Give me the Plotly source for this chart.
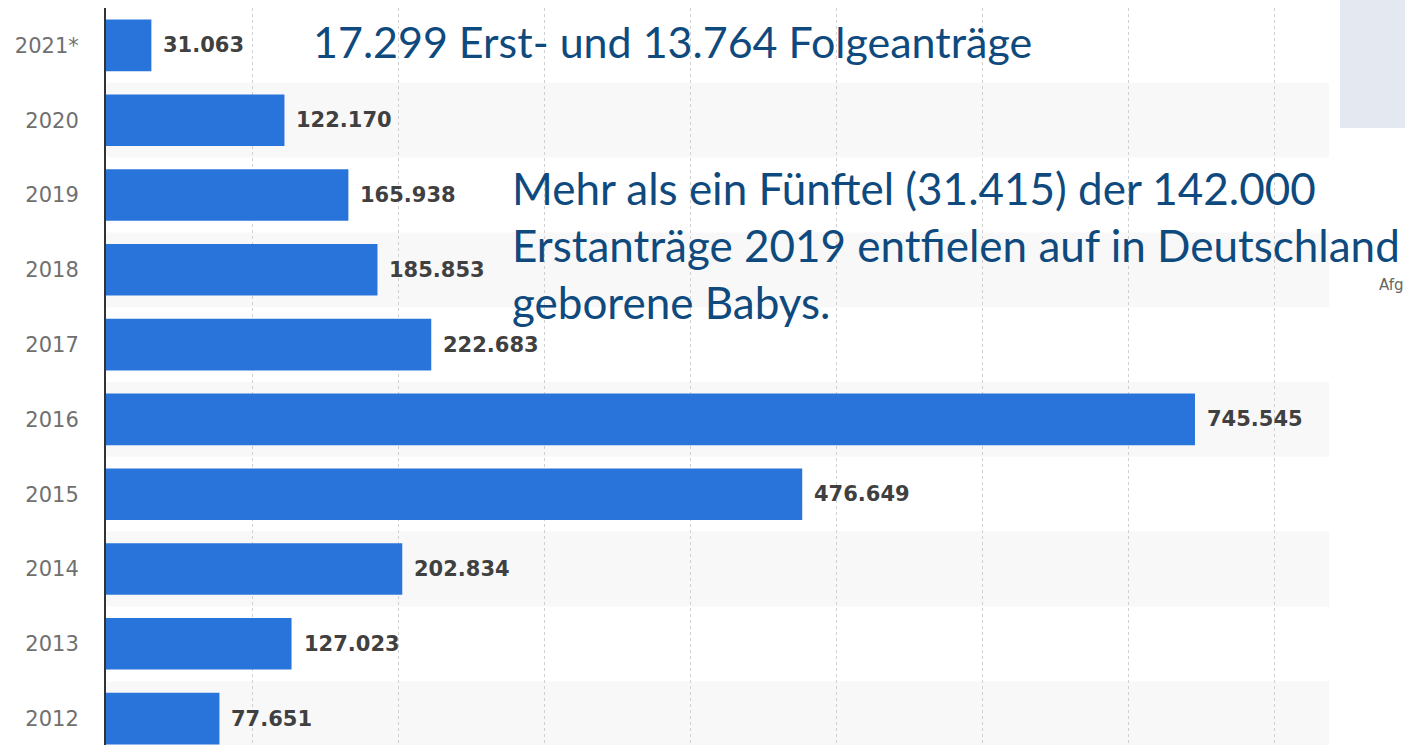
import plotly.graph_objects as go

years = ["2012", "2013", "2014", "2015", "2016", "2017", "2018", "2019", "2020", "2021*"]
antraege = [77651, 127023, 202834, 476649, 745545, 222683, 185853, 165938, 122170, 31063]

note_top = "17.299 Erst- und 13.764 Folgeanträge"
note_lines = [
    "Mehr als ein Fünftel (31.415) der 142.000",
    "Erstanträge 2019 entfielen auf in Deutschland",
    "geborene Babys.",
]
legend_stub = "Afg"

BAR = "#2874db"
NOTE = "#0f4a7e"

def de(v):
    return f"{v:,}".replace(",", ".")

fig = go.Figure()
fig.add_trace(go.Bar(
    y=list(range(len(years))),
    x=antraege,
    orientation="h",
    marker=dict(color=BAR, line=dict(width=0)),
    width=0.69,
    hoverinfo="skip",
))

# alternating row bands
shapes = []
for i, y in enumerate(years):
    if i % 2 == 0:
        shapes.append(dict(type="rect", xref="paper", yref="y", x0=0, x1=1,
                           y0=i - 0.5, y1=i + 0.5, fillcolor="#f8f8f8",
                           line=dict(width=0), layer="below"))
# grey box top right
shapes.append(dict(type="rect", xref="paper", yref="paper", x0=1.009, x1=1.1,
                   y0=(745 - 128) / 737, y1=1.05, fillcolor="#e4e8f1", line=dict(width=0),
                   layer="above"))

annotations = []
for i, v in enumerate(antraege):
    annotations.append(dict(x=v, y=i, xref="x", yref="y", text=de(v),
                            showarrow=False, xanchor="left", yanchor="middle",
                            xshift=10,
                            font=dict(family="DejaVu Sans", size=21, color="#404040",
                                      weight="bold")))

annotations.append(dict(x=(311 - 106) / 1223, y=(745 - 41) / 737, xref="paper", yref="paper",
                        text=note_top, showarrow=False, xanchor="left", yanchor="middle",
                        font=dict(family="Lato", size=43, color=NOTE)))
for k, line in enumerate(note_lines):
    cy = 188 + k * 57
    annotations.append(dict(x=(510 - 106) / 1223, y=(745 - cy) / 737, xref="paper", yref="paper",
                            text=line, showarrow=False, xanchor="left", yanchor="middle",
                            font=dict(family="Lato", size=44, color=NOTE)))
annotations.append(dict(x=(1377 - 106) / 1223, y=(745 - 285) / 737, xref="paper", yref="paper",
                        text=legend_stub, showarrow=False, xanchor="left", yanchor="middle",
                        font=dict(family="DejaVu Sans", size=15, color="#666666")))

fig.update_layout(
    width=1405, height=745,
    margin=dict(l=106, r=76, t=8, b=0),
    paper_bgcolor="white", plot_bgcolor="white",
    showlegend=False,
    shapes=shapes,
    annotations=annotations,
    xaxis=dict(range=[0, 837300], dtick=100000, tick0=0, showgrid=True,
               gridcolor="#d0d0d0", griddash="dot", gridwidth=1,
               showticklabels=False, zeroline=False, showline=False, fixedrange=True),
    yaxis=dict(range=[-0.353, 9.5], tickmode="array", tickvals=list(range(len(years))),
               ticktext=years, showgrid=False, zeroline=False,
               showline=True, linecolor="#333333", linewidth=2,
               ticks="", ticklabelstandoff=21,
               tickfont=dict(family="DejaVu Sans", size=21, color="#707070"),
               fixedrange=True),
)

fig.write_html("out.html", config={"displayModeBar": False},
               post_script="document.body.style.margin='0';document.body.style.overflow='hidden';")
